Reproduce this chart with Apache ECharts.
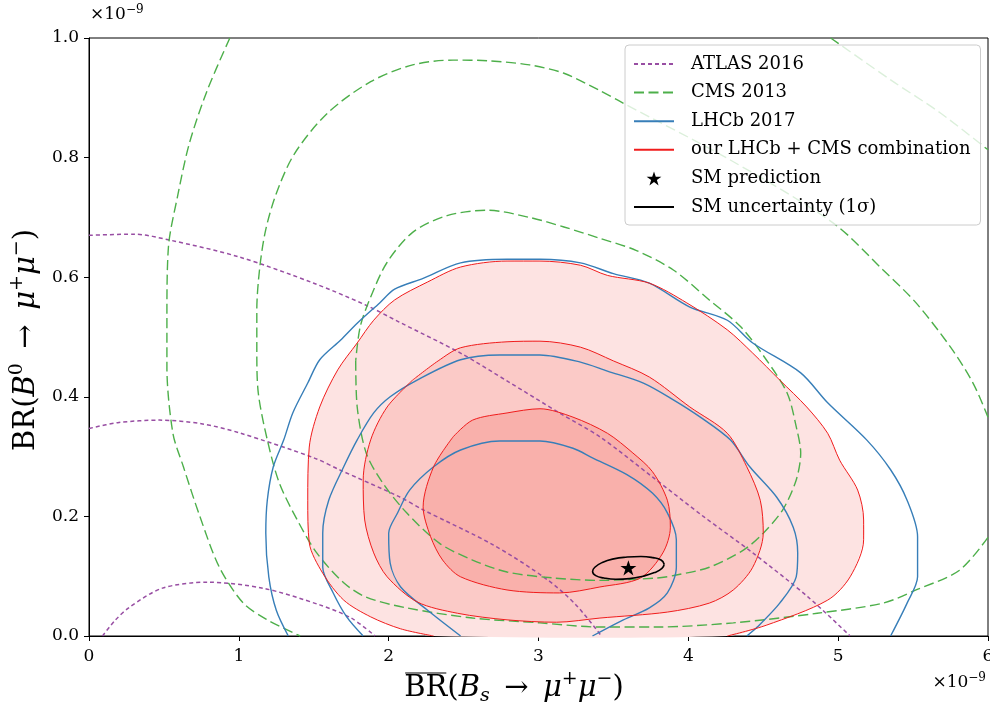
<!DOCTYPE html>
<html>
<head>
<meta charset="utf-8">
<script src="https://cdn.jsdelivr.net/npm/echarts@6/dist/echarts.min.js"></script>
<style>
html,body{margin:0;padding:0;background:#fff;}
#c{width:990px;height:702px;}
</style>
</head>
<body>
<div id="c"></div>
<script>
// ---------- data (units of 1e-9) ----------
const xTicks = [0, 1, 2, 3, 4, 5, 6];
const yTicks = [0.0, 0.2, 0.4, 0.6, 0.8, 1.0];
const seriesNames = ['ATLAS 2016', 'CMS 2013', 'LHCb 2017', 'our LHCb + CMS combination', 'SM prediction', 'SM uncertainty (1\u03c3)'];

const atlasOuter = [[0,0.670],[0.3,0.672],[0.54,0.662],[1.0,0.634],[1.5,0.59],[1.85,0.553],[2.07,0.525],[2.48,0.473],[2.8,0.425],[3.14,0.373],[3.41,0.333],[3.76,0.266],[4.1,0.2],[4.43,0.139],[4.8,0.065],[5.08,0.0]];
const atlasMid = [[0,0.347],[0.2,0.357],[0.47,0.361],[0.75,0.355],[1.0,0.34],[1.5,0.298],[1.68,0.277],[2.07,0.233],[2.23,0.211],[2.7,0.152],[3.06,0.094],[3.25,0.052],[3.42,0.0]];
const atlasInner = [[0.09,0],[0.17,0.025],[0.27,0.048],[0.49,0.08],[0.79,0.09],[1.16,0.08],[1.54,0.052],[1.75,0.03],[1.91,0]];

const cmsInner = [[1.78,0.46],[1.79,0.383],[1.85,0.306],[1.96,0.256],[2.12,0.206],[2.34,0.155],[2.56,0.127],[2.79,0.107],[3.1,0.097],[3.41,0.093],[3.79,0.097],[3.92,0.102],[4.14,0.115],[4.37,0.144],[4.50,0.172],[4.63,0.211],[4.72,0.261],[4.75,0.306],[4.72,0.35],[4.66,0.406],[4.52,0.462],[4.35,0.517],[4.14,0.562],[3.90,0.612],[3.65,0.645],[3.41,0.665],[3.17,0.684],[2.94,0.70],[2.66,0.712],[2.39,0.703],[2.16,0.675],[1.99,0.625],[1.88,0.567],[1.81,0.517],[1.78,0.46]];
const cmsMid = [[6.0,0.165],[5.81,0.11],[5.52,0.077],[5.30,0.055],[4.86,0.038],[4.30,0.022],[3.79,0.015],[3.41,0.015],[3.01,0.022],[2.56,0.03],[2.12,0.047],[1.85,0.065],[1.70,0.089],[1.52,0.139],[1.39,0.194],[1.27,0.256],[1.19,0.328],[1.13,0.406],[1.12,0.478],[1.12,0.545],[1.14,0.617],[1.18,0.68],[1.25,0.74],[1.37,0.806],[1.59,0.874],[1.88,0.927],[2.16,0.955],[2.43,0.963],[2.66,0.962],[2.94,0.955],[3.17,0.941],[3.41,0.912],[3.55,0.893],[4.28,0.796],[4.97,0.69],[5.30,0.612],[5.52,0.557],[5.75,0.483],[5.90,0.423],[6.0,0.366]];
const cmsOuterLeft = [[0.94,1.0],[0.79,0.913],[0.67,0.824],[0.59,0.734],[0.53,0.65],[0.52,0.534],[0.52,0.45],[0.56,0.339],[0.63,0.283],[0.74,0.2],[0.87,0.115],[1.03,0.055],[1.19,0.027],[1.41,0.0]];
const cmsOuterRight = [[4.95,1.0],[5.35,0.93],[5.68,0.875],[6.0,0.813]];

const lhcbOuter = [[1.33,0],[1.25,0.043],[1.20,0.099],[1.18,0.172],[1.19,0.227],[1.23,0.283],[1.30,0.328],[1.36,0.373],[1.46,0.423],[1.54,0.462],[1.68,0.495],[1.79,0.523],[1.94,0.557],[2.04,0.58],[2.23,0.598],[2.48,0.624],[2.79,0.63],[3.01,0.63],[3.28,0.624],[3.50,0.606],[3.74,0.59],[4.01,0.55],[4.26,0.528],[4.43,0.49],[4.75,0.44],[4.93,0.39],[5.19,0.328],[5.35,0.278],[5.46,0.227],[5.53,0.166],[5.53,0.099],[5.46,0.055],[5.35,0.0]];
const lhcbMid = [[1.83,0],[1.72,0.032],[1.63,0.072],[1.56,0.115],[1.56,0.172],[1.60,0.227],[1.70,0.283],[1.79,0.328],[1.90,0.373],[2.01,0.4],[2.19,0.428],[2.48,0.462],[2.74,0.47],[3.01,0.47],[3.28,0.458],[3.46,0.443],[3.70,0.423],[3.90,0.395],[4.08,0.366],[4.28,0.328],[4.41,0.283],[4.59,0.232],[4.70,0.182],[4.73,0.139],[4.72,0.099],[4.61,0.055],[4.46,0.015],[4.39,0]];
const lhcbInner = [[2.48,0],[2.26,0.043],[2.08,0.082],[2.01,0.122],[2.0,0.172],[2.06,0.206],[2.14,0.244],[2.30,0.283],[2.48,0.311],[2.74,0.326],[3.01,0.326],[3.23,0.314],[3.36,0.298],[3.59,0.27],[3.76,0.239],[3.86,0.206],[3.92,0.161],[3.92,0.115],[3.86,0.072],[3.74,0.047],[3.55,0.025],[3.36,0.0]];

const comboOuter = [[2.3,0.0],[2.08,0.012],[1.88,0.032],[1.70,0.06],[1.56,0.105],[1.47,0.156],[1.46,0.227],[1.47,0.316],[1.54,0.383],[1.66,0.445],[1.79,0.49],[1.9,0.528],[2.04,0.562],[2.26,0.592],[2.48,0.617],[2.79,0.627],[3.01,0.627],[3.28,0.62],[3.46,0.603],[3.74,0.59],[3.99,0.557],[4.26,0.512],[4.43,0.473],[4.61,0.428],[4.79,0.383],[4.93,0.339],[5.01,0.294],[5.13,0.244],[5.17,0.194],[5.17,0.161],[5.08,0.099],[4.93,0.06],[4.52,0.018],[4.26,0.0]];
const comboMid = [[2.16,0.428],[2.33,0.46],[2.48,0.482],[2.79,0.492],[3.01,0.493],[3.28,0.483],[3.50,0.46],[3.74,0.433],[4.01,0.383],[4.26,0.339],[4.39,0.283],[4.48,0.227],[4.50,0.172],[4.43,0.115],[4.30,0.077],[4.14,0.055],[3.86,0.04],[3.41,0.03],[3.12,0.023],[2.79,0.027],[2.46,0.038],[2.19,0.057],[1.99,0.099],[1.90,0.139],[1.84,0.194],[1.83,0.261],[1.88,0.328],[1.99,0.383],[2.16,0.428]];
const comboInner = [[2.43,0.333],[2.56,0.361],[2.79,0.373],[3.01,0.38],[3.23,0.366],[3.46,0.339],[3.63,0.306],[3.76,0.275],[3.86,0.227],[3.88,0.182],[3.83,0.139],[3.68,0.097],[3.41,0.082],[3.14,0.072],[2.79,0.077],[2.48,0.099],[2.36,0.127],[2.28,0.166],[2.23,0.216],[2.30,0.283],[2.43,0.333]];

const smPoint = [[3.6, 0.114]];
const smEllipse = [[3.839,0.120],[3.818,0.127],[3.764,0.131],[3.684,0.133],[3.592,0.132],[3.502,0.129],[3.426,0.123],[3.376,0.115],[3.361,0.108],[3.382,0.101],[3.437,0.097],[3.516,0.095],[3.608,0.096],[3.698,0.100],[3.774,0.106],[3.824,0.113],[3.839,0.120]];

// ---------- styles ----------
const FONT = 'DejaVu Serif';
const C_ATLAS = '#984ea3', C_CMS = '#4daf4a', C_LHCB = '#377eb8', C_RED = '#f01c1c';
const FILLS = ['#fde3e2', '#fbcac7', '#f9b0ab'];
const STAR = 'path://M50,0 L61.8,35.4 L99,35.4 L69,57.3 L80.4,93 L50,71 L19.6,93 L31,57.3 L1,35.4 L38.2,35.4 Z';

function lineSeries(name, data, color, width, type, z) {
  return {
    type: 'line', name: name, data: data, smooth: 0.3, symbol: 'circle', symbolSize: 0, showSymbol: false,
    silent: true, animation: false, z: z, clip: true,
    lineStyle: {color: color, width: width, type: type},
    itemStyle: {color: color}
  };
}
function fillSeries(pts, color, z) {
  return {
    type: 'custom', name: 'fill', coordinateSystem: 'cartesian2d', silent: true, animation: false, z: z,
    data: [pts[0]],
    renderItem: function (params, api) {
      return {type: 'polygon', shape: {points: pts.map(function (p) { return api.coord(p); }), smooth: 0.3},
              style: {fill: color, stroke: null}};
    }
  };
}

const series = [
  fillSeries(comboOuter, FILLS[0], 1),
  fillSeries(comboMid, FILLS[1], 1),
  fillSeries(comboInner, FILLS[2], 1),
  lineSeries(seriesNames[0], atlasOuter, C_ATLAS, 1.5, [4, 3], 3),
  lineSeries(seriesNames[0], atlasMid, C_ATLAS, 1.5, [4, 3], 3),
  lineSeries(seriesNames[0], atlasInner, C_ATLAS, 1.5, [4, 3], 3),
  lineSeries(seriesNames[1], cmsInner, C_CMS, 1.4, [10, 4.5], 3),
  lineSeries(seriesNames[1], cmsMid, C_CMS, 1.4, [10, 4.5], 3),
  lineSeries(seriesNames[1], cmsOuterLeft, C_CMS, 1.4, [10, 4.5], 3),
  lineSeries(seriesNames[1], cmsOuterRight, C_CMS, 1.4, [10, 4.5], 3),
  lineSeries(seriesNames[2], lhcbOuter, C_LHCB, 1.4, 'solid', 4),
  lineSeries(seriesNames[2], lhcbMid, C_LHCB, 1.4, 'solid', 4),
  lineSeries(seriesNames[2], lhcbInner, C_LHCB, 1.4, 'solid', 4),
  lineSeries(seriesNames[3], comboOuter, C_RED, 1.0, 'solid', 4),
  lineSeries(seriesNames[3], comboMid, C_RED, 1.0, 'solid', 4),
  lineSeries(seriesNames[3], comboInner, C_RED, 1.0, 'solid', 4),
  {type: 'scatter', name: seriesNames[4], data: smPoint, symbol: STAR, symbolSize: 16, symbolKeepAspect: true,
   itemStyle: {color: '#000', opacity: 1}, silent: true, animation: false, z: 6},
  Object.assign(lineSeries(seriesNames[5], smEllipse, '#000', 1.6, 'solid', 5), {smooth: 0.5})
];

// ---------- axis titles (rich text) ----------
const TF = 29;
const rich = {
  m: {fontFamily: FONT, fontSize: TF, color: '#000', lineHeight: 36},
  mi: {fontFamily: FONT, fontSize: TF, fontStyle: 'italic', color: '#000', lineHeight: 36},
  sup: {fontFamily: FONT, fontSize: 19, color: '#000', lineHeight: 19, verticalAlign: 'top'},
  sub: {fontFamily: FONT, fontSize: 19, fontStyle: 'italic', color: '#000', lineHeight: 19, verticalAlign: 'bottom'},
  t: {fontFamily: FONT, fontSize: 17, color: '#000', lineHeight: 22},
  ts: {fontFamily: FONT, fontSize: 12, color: '#000', lineHeight: 12, verticalAlign: 'top'}
};
const xTitleParts = [['BR(', 'm'], ['B', 'mi'], ['s', 'sub'], ['\u2002\u2192\u2002', 'm'], ['\u03bc', 'mi'], ['+', 'sup'], ['\u03bc', 'mi'], ['\u2212', 'sup'], [')', 'm']];
const yTitleParts = [['BR(', 'm'], ['B', 'mi'], ['0', 'sup'], ['\u2002\u2192\u2002', 'm'], ['\u03bc', 'mi'], ['+', 'sup'], ['\u03bc', 'mi'], ['\u2212', 'sup'], [')', 'm']];
const mctx = document.createElement('canvas').getContext('2d');
function partWidth(p) {
  const st = rich[p[1]];
  mctx.font = (st.fontStyle === 'italic' ? 'italic ' : '') + st.fontSize + 'px "' + FONT + '"';
  return mctx.measureText(p[0]).width;
}
function richStr(parts) { return parts.map(function (p) { return '{' + p[1] + '|' + p[0] + '}'; }).join(''); }
const xTitleW = xTitleParts.reduce(function (s, p) { return s + partWidth(p); }, 0);
const xTitleX0 = 514 - xTitleW / 2;
const brW = partWidth(['BR', 'm']);

const chart = echarts.init(document.getElementById('c'), null, {renderer: 'canvas'});
chart.setOption({
  animation: false,
  backgroundColor: '#fff',
  grid: {left: 89, right: 2, top: 38, bottom: 66, show: true, borderColor: '#000', borderWidth: 1,
         backgroundColor: 'transparent', containLabel: false, outerBoundsMode: 'none'},
  xAxis: {
    type: 'value', min: xTicks[0], max: xTicks[xTicks.length - 1], interval: 1,
    axisLine: {show: true, lineStyle: {color: '#000', width: 1}},
    axisTick: {show: true, length: 5, lineStyle: {color: '#000', width: 1}},
    axisLabel: {color: '#000', fontFamily: FONT, fontSize: 17, margin: 12,
      formatter: function (v) { return xTicks.indexOf(v) >= 0 ? String(v) : ''; }},
    splitLine: {show: false}
  },
  yAxis: {
    type: 'value', min: yTicks[0], max: yTicks[yTicks.length - 1], interval: 0.2,
    axisLine: {show: true, lineStyle: {color: '#000', width: 1}},
    axisTick: {show: true, length: 5, lineStyle: {color: '#000', width: 1}},
    axisLabel: {color: '#000', fontFamily: FONT, fontSize: 17, margin: 10,
      formatter: function (v) { return v.toFixed(1); }},
    splitLine: {show: false}
  },
  legend: {
    orient: 'vertical', left: 625, top: 45,
    data: seriesNames.map(function (n, i) {
      return i === 4 ? {name: n, itemStyle: {opacity: 1}} : {name: n};
    }),
    itemWidth: 40, itemHeight: 14, itemGap: 8.6,
    padding: [9, 10, 8, 8],
    itemStyle: {opacity: 0},
    backgroundColor: 'rgba(255,255,255,0.8)', borderColor: '#cccccc', borderWidth: 1, borderRadius: 4,
    textStyle: {fontFamily: FONT, fontSize: 18, color: '#000', lineHeight: 20, padding: [0, 0, 0, 12]},
    selectedMode: false
  },
  series: series,
  graphic: [
    {type: 'text', left: 90, top: 4, silent: true,
     style: {text: '{t|\u00d710}{ts|\u22129}', rich: rich}},
    {type: 'text', right: 4, top: 672, silent: true,
     style: {text: '{t|\u00d710}{ts|\u22129}', rich: rich}},
    {type: 'text', x: xTitleX0, y: 688, silent: true,
     style: {text: richStr(xTitleParts), rich: rich, align: 'left', verticalAlign: 'middle'}},
    {type: 'line', silent: true, shape: {x1: xTitleX0 + 1, y1: 673, x2: xTitleX0 + brW - 1, y2: 673},
     style: {stroke: '#000', lineWidth: 1.2}},
    {type: 'text', x: 26, y: 340, rotation: Math.PI / 2, silent: true,
     style: {text: richStr(yTitleParts), rich: rich, align: 'center', verticalAlign: 'middle'}}
  ]
});
</script>
</body>
</html>
